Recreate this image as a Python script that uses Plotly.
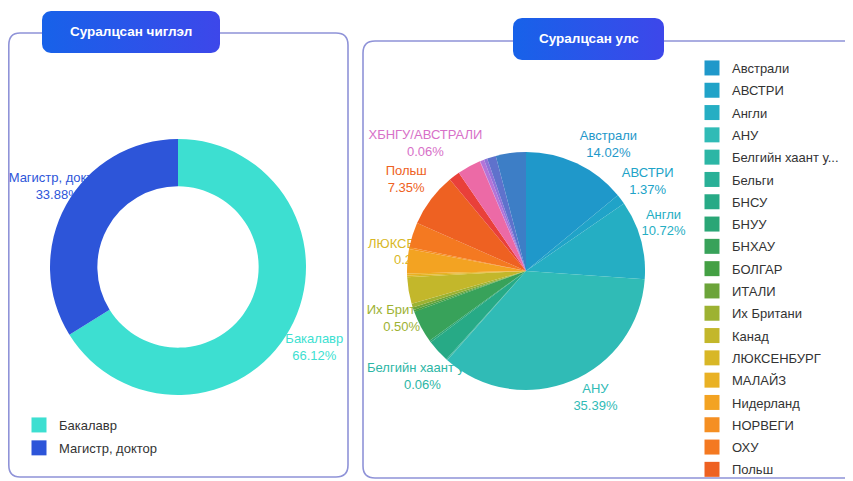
import math
import plotly.graph_objects as go

W, H = 853, 481          # browser window
OFF = 8                  # default page margin around the plot div
FW, FH = W - OFF, H - OFF  # figure size so that it fills the window exactly

# ---------------- data ----------------
degree_labels = ["Бакалавр", "Магистр, доктор"]
degree_values = [66.12, 33.88]

country_labels = [
    "Австрали", "АВСТРИ", "Англи", "АНУ", "Белгийн хаант улс", "Бельги", "БНСУ",
    "БНУУ", "БНХАУ", "БОЛГАР", "ИТАЛИ", "Их Британи", "Канад", "ЛЮКСЕНБУРГ",
    "МАЛАЙЗ", "Нидерланд", "НОРВЕГИ", "ОХУ", "Польш", "Франц", "ХБНГУ",
    "ХБНГУ/АВСТРАЛИ", "Чех", "Швед", "Шинэ Зеланд", "Япон",
]
country_values = [
    14.02, 1.37, 10.72, 35.39, 0.06, 0.12, 3.10,
    0.25, 4.40, 0.25, 0.37, 0.50, 3.60, 0.25,
    0.25, 3.30, 0.25, 3.40, 7.35, 1.50, 3.20,
    0.06, 0.55, 0.45, 1.20, 4.09,
]
# labels that the chart prints next to the pie (others hidden by overlap)
country_shown = ["Австрали", "АВСТРИ", "Англи", "АНУ", "Белгийн хаант улс",
                 "Их Британи", "ЛЮКСЕНБУРГ", "Польш", "ХБНГУ/АВСТРАЛИ"]
country_legend_visible = 19  # legend is scrolled: entries after this are cut off

titles = ["Суралцсан чиглэл", "Суралцсан улс"]

# ---------------- style ----------------
degree_colors = ["#3ddfd1", "#2d55d9"]
country_colors = [
    "#1f98ca", "#20a3c8", "#25aec3", "#30bbb6", "#2cb6a5", "#29b097", "#27aa86",
    "#2aa676", "#38a25a", "#44a044", "#6ca43a", "#9db232", "#c3b72b", "#d8b726",
    "#e9b124", "#f3a322", "#f58f22", "#f47921", "#ee6122", "#e9403a", "#ec6aa6",
    "#d770c8", "#b474d8", "#8f72d8", "#5f72cc", "#3d7ec6",
]
FONT = "Arial, Liberation Sans, sans-serif"
BORDER = "#8f93d8"

# geometry in window pixels
DONUT = dict(cx=178, cy=267, r=128, hole=0.63, k=1.2)
PIE = dict(cx=526, cy=271, r=119, k=1.25)

# label layout nudges (pixels), mimicking the source chart's overlap handling
donut_nudge = {"Бакалавр": (2, 7), "Магистр, доктор": (14, -5)}
pie_nudge = {
    "Австрали": (19, 9), "АВСТРИ": (3, 1), "Англи": (-6, -8), "АНУ": (13, -10),
    "Белгийн хаант улс": (-5, -5), "Их Британи": (18, 5), "ЛЮКСЕНБУРГ": (35, -25),
    "Польш": (-1, -1), "ХБНГУ/АВСТРАЛИ": (-43, 10),
}


def px(x):
    return (x - OFF) / FW


def py(y):
    return 1 - (y - OFF) / FH


def domain(g):
    return dict(x=[px(g["cx"] - g["r"]), px(g["cx"] + g["r"])],
                y=[py(g["cy"] + g["r"]), py(g["cy"] - g["r"])])


def label_trace(labels, values, colors, g, shown, nudges):
    total = sum(values)
    xs, ys, txt, cols = [], [], [], []
    cum = 0.0
    for lab, v, c in zip(labels, values, colors):
        mid = (cum + v / 2) / total * 2 * math.pi
        cum += v
        if lab not in shown:
            continue
        R = g["k"] * g["r"]
        dx, dy = nudges.get(lab, (0, 0))
        xs.append(g["cx"] + R * math.sin(mid) + dx)
        ys.append(g["cy"] - R * math.cos(mid) + dy)
        txt.append(f"{lab}<br>{v / total * 100:.2f}%")
        cols.append(c)
    return go.Scatter(x=xs, y=ys, mode="text", text=txt, textposition="middle center",
                      textfont=dict(family=FONT, size=13, color=cols),
                      hoverinfo="skip", showlegend=False)


def rounded_pts(x0, y0, x1, y1, r, n=8):
    pts = []
    corners = [(x1 - r, y0 + r, -90), (x1 - r, y1 - r, 0), (x0 + r, y1 - r, 90), (x0 + r, y0 + r, 180)]
    for cx, cy, a0 in corners:
        for i in range(n + 1):
            a = math.radians(a0 + 90 * i / n)
            pts.append((cx + r * math.cos(a), cy + r * math.sin(a)))
    pts.append(pts[0])
    return [p[0] for p in pts], [p[1] for p in pts]


def short(s, n=15):
    return s if len(s) <= n else s[:n] + "..."


fig = go.Figure()

# title badges
badges = [(42, 11, 220, 53), (513, 18, 664, 60)]
for (x0, y0, x1, y1), t in zip(badges, titles):
    bx, by = rounded_pts(x0, y0, x1, y1, 9)
    fig.add_trace(go.Scatter(x=bx, y=by, mode="lines", fill="toself", line=dict(width=0),
                             fillgradient=dict(type="horizontal",
                                               colorscale=[[0, "#1762e9"], [1, "#3d47ea"]]),
                             hoverinfo="skip", showlegend=False))
    fig.add_annotation(x=(x0 + x1) / 2, y=(y0 + y1) / 2 - 0.5, text=f"<b>{t}</b>", showarrow=False,
                       font=dict(family=FONT, size=13.5, color="white"), xref="x", yref="y")

# slice labels (drawn underneath the pies, like the source)
fig.add_trace(label_trace(degree_labels, degree_values, degree_colors, DONUT,
                          degree_labels, donut_nudge))
fig.add_trace(label_trace(country_labels, country_values, country_colors, PIE,
                          country_shown, pie_nudge))

# legend entries
for lab, c in zip(degree_labels, degree_colors):
    fig.add_trace(go.Scatter(x=[None], y=[None], mode="markers", name=lab, legend="legend",
                             legendgroup="d" + lab,
                             marker=dict(symbol="square", size=15, color=c)))
for lab, c in list(zip(country_labels, country_colors))[:country_legend_visible]:
    fig.add_trace(go.Scatter(x=[None], y=[None], mode="markers", name=short(lab), legend="legend2",
                             legendgroup="c" + lab,
                             marker=dict(symbol="square", size=15, color=c)))

# pies
fig.add_trace(go.Pie(labels=degree_labels, values=degree_values, hole=DONUT["hole"],
                     domain=domain(DONUT), sort=False, direction="clockwise", rotation=0,
                     marker=dict(colors=degree_colors, line=dict(width=0)),
                     textinfo="none", showlegend=False))
fig.add_trace(go.Pie(labels=country_labels, values=country_values,
                     domain=domain(PIE), sort=False, direction="clockwise", rotation=0,
                     marker=dict(colors=country_colors, line=dict(width=0)),
                     textinfo="none", showlegend=False))

# panel borders
shapes = [
    dict(type="path", xref="x", yref="y", layer="below",
         path="M 20,33 L 336,33 Q 348,33 348,45 L 348,465 Q 348,477 336,477 "
              "L 20,477 Q 8.8,477 8.8,465 L 8.8,45 Q 8.8,33 20,33 Z",
         line=dict(color=BORDER, width=1.6)),
    dict(type="path", xref="x", yref="y", layer="below",
         path="M 880,41 L 375,41 Q 363,41 363,53 L 363,466 Q 363,478 375,478 L 880,478",
         line=dict(color=BORDER, width=1.6)),
]

fig.update_layout(
    width=FW, height=FH, margin=dict(l=0, r=0, t=0, b=0, pad=0, autoexpand=False),
    paper_bgcolor="white", plot_bgcolor="white",
    xaxis=dict(range=[OFF, W], visible=False, fixedrange=True, domain=[0, 1]),
    yaxis=dict(range=[H, OFF], visible=False, fixedrange=True, domain=[0, 1]),
    shapes=shapes,
    legend=dict(x=px(19), y=py(410), xanchor="left", yanchor="top",
                font=dict(family=FONT, size=13, color="#333333"),
                tracegroupgap=3, bgcolor="rgba(0,0,0,0)"),
    legend2=dict(x=px(692), y=py(53), xanchor="left", yanchor="top",
                 font=dict(family=FONT, size=13, color="#333333"),
                 tracegroupgap=2.4, bgcolor="rgba(0,0,0,0)"),
    showlegend=True,
)

fig.write_html("out.html")
